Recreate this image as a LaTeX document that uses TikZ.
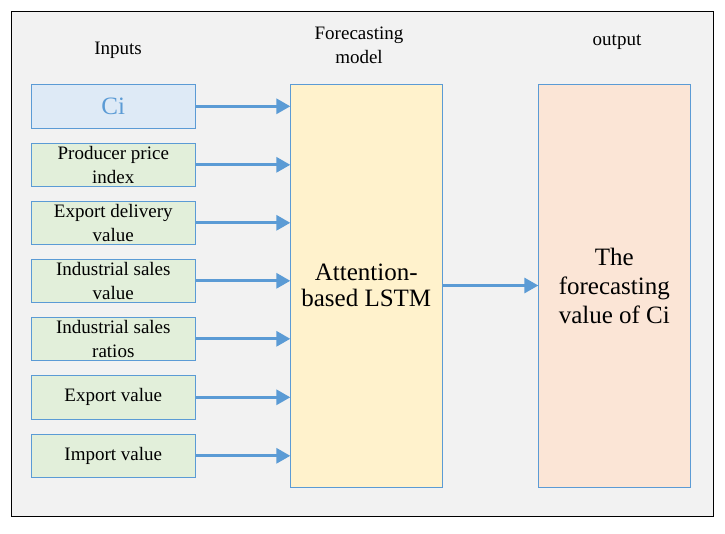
\documentclass[tikz,border=0pt]{standalone}
\usepackage{fontspec}
\setmainfont{Liberation Serif}
\usetikzlibrary{arrows.meta}
\definecolor{bg}{HTML}{F2F2F2}
\definecolor{bl}{HTML}{5B9BD5}
\definecolor{cifill}{HTML}{DEEAF6}
\definecolor{gr}{HTML}{E2EFDA}
\definecolor{ye}{HTML}{FFF2CC}
\definecolor{pk}{HTML}{FBE5D6}
\tikzset{
  inbox/.style={draw=bl, line width=0.9pt, fill=gr, minimum width=164pt, minimum height=43.5pt, align=center, inner sep=0pt, font=\fontsize{19}{24}\selectfont},
  onebox/.style={inbox, text depth=1.5pt},
  bigbox/.style={draw=bl, line width=0.9pt, minimum width=152pt, minimum height=403pt, align=center, inner sep=0pt},
  arr/.style={draw=bl, line width=3pt, -{Triangle[length=14pt,width=15pt]}, shorten >=-0.5pt},
  lbl/.style={align=center, font=\fontsize{19}{24}\selectfont}
}
\begin{document}
\begin{tikzpicture}[x=1pt,y=-1pt]
\useasboundingbox (0,0) rectangle (725,533);
\fill[white] (0,0) rectangle (725,533);
\node[draw=black, line width=1pt, fill=bg, minimum width=702pt, minimum height=505pt, anchor=north west, inner sep=0pt] (frame) at (11,10.5) {};
\node[lbl] (tin) at (118,50) {Inputs};
\node[lbl] (tmod) at (359,45) {Forecasting\\model};
\node[lbl] (tout) at (617,42) {output};
\node[inbox, fill=cifill, text=bl, font=\fontsize{25}{28}\selectfont] (ci) at (113.3,106.3) {Ci};
\node[inbox] (ppi) at (113.3,164.8) {Producer price\\index};
\node[inbox] (edv) at (113.3,222.8) {Export delivery\\value};
\node[inbox] (isv) at (113.3,280.8) {Industrial sales\\value};
\node[inbox] (isr) at (113.3,338.8) {Industrial sales\\ratios};
\node[inbox] (ev) at (113.3,397.3) {\raisebox{-2pt}{Export value}};
\node[inbox] (iv) at (113.3,455.8) {\raisebox{-2pt}{Import value}};
\node[bigbox, fill=ye, font=\fontsize{25}{26}\selectfont] (att) at (366.3,285.5) {Attention-\\based LSTM};
\node[bigbox, fill=pk, font=\fontsize{25}{29}\selectfont] (outb) at (614.3,285.5) {The\\forecasting\\value of Ci};
\foreach \n in {ci,ppi,edv,isv,isr,ev,iv}{
  \draw[arr] (\n.east) -- (\n.east -| att.west);
}
\draw[arr] (att.east) -- (outb.west);
\end{tikzpicture}
\end{document}
